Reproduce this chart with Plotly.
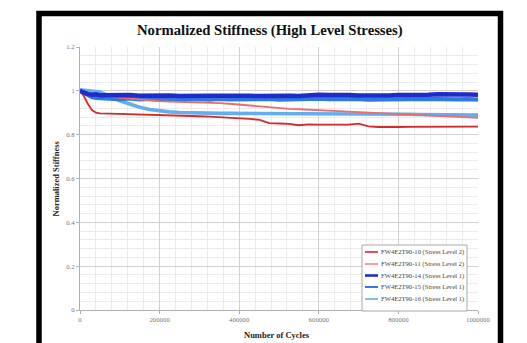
import plotly.graph_objects as go

cycles = [0, 10000, 20000, 30000, 40000, 50000, 75000, 100000, 125000, 150000, 175000,
          200000, 225000, 250000, 275000, 300000, 325000, 350000, 375000, 400000, 425000,
          450000, 475000, 500000, 525000, 550000, 575000, 600000, 625000, 650000, 675000,
          700000, 725000, 750000, 775000, 800000, 825000, 850000, 875000, 900000, 925000,
          950000, 975000, 1000000]

fw10 = [1.000, 0.975, 0.940, 0.912, 0.900, 0.897, 0.896, 0.895, 0.891, 0.893, 0.891,
        0.889, 0.888, 0.886, 0.885, 0.884, 0.882, 0.880, 0.878, 0.876, 0.872,
        0.868, 0.853, 0.851, 0.849, 0.843, 0.847, 0.846, 0.845, 0.844, 0.846,
        0.850, 0.838, 0.835, 0.834, 0.835, 0.836, 0.836, 0.837, 0.836, 0.837,
        0.836, 0.837, 0.837]

fw11 = [1.000, 0.995, 0.990, 0.985, 0.980, 0.977, 0.972, 0.968, 0.963, 0.958, 0.955,
        0.953, 0.951, 0.950, 0.949, 0.948, 0.946, 0.944, 0.941, 0.937, 0.933,
        0.929, 0.925, 0.920, 0.918, 0.916, 0.913, 0.911, 0.909, 0.907, 0.905,
        0.903, 0.901, 0.899, 0.896, 0.893, 0.891, 0.889, 0.887, 0.885, 0.883,
        0.881, 0.879, 0.877]

fw14 = [1.000, 0.990, 0.985, 0.982, 0.984, 0.980, 0.982, 0.979, 0.981, 0.978, 0.980,
        0.977, 0.979, 0.976, 0.978, 0.975, 0.977, 0.978, 0.976, 0.979, 0.977,
        0.976, 0.978, 0.975, 0.977, 0.976, 0.980, 0.982, 0.981, 0.983, 0.981,
        0.979, 0.978, 0.977, 0.979, 0.981, 0.980, 0.983, 0.982, 0.984, 0.982,
        0.980, 0.983, 0.982]

fw15 = [1.000, 0.990, 0.980, 0.972, 0.968, 0.966, 0.964, 0.962, 0.965, 0.961, 0.963,
        0.960, 0.962, 0.959, 0.961, 0.962, 0.960, 0.963, 0.961, 0.962, 0.960,
        0.961, 0.963, 0.960, 0.962, 0.961, 0.963, 0.964, 0.962, 0.963, 0.961,
        0.962, 0.960, 0.961, 0.962, 0.960, 0.962, 0.961, 0.963, 0.962, 0.960,
        0.961, 0.962, 0.960]

fw16 = [1.005, 1.003, 1.000, 1.000, 0.998, 0.995, 0.975, 0.955, 0.940, 0.925, 0.915,
        0.908, 0.904, 0.901, 0.899, 0.898, 0.897, 0.897, 0.897, 0.897, 0.896,
        0.896, 0.897, 0.896, 0.896, 0.895, 0.896, 0.895, 0.895, 0.896, 0.895,
        0.895, 0.894, 0.894, 0.894, 0.894, 0.893, 0.892, 0.892, 0.891, 0.891,
        0.890, 0.890, 0.889]

names = ["FW4E2T90-10 (Stress Level 2)", "FW4E2T90-11 (Stress Level 2)",
         "FW4E2T90-14 (Stress Level 1)", "FW4E2T90-15 (Stress Level 1)",
         "FW4E2T90-16 (Stress Level 1)"]
series = [fw10, fw11, fw14, fw15, fw16]
colors = ["#d42a2a", "#f06a6a", "#1e2ccc", "#2f78e0", "#62aef0"]
widths = [1.8, 1.8, 4.5, 4.2, 3.6]
legend_widths = [1.6, 1.3, 2.6, 2.0, 1.6]

x_ticks = [0, 200000, 400000, 600000, 800000, 1000000]
y_ticks = [0, 0.2, 0.4, 0.6, 0.8, 1.0, 1.2]

serif = "Liberation Serif, Times New Roman, serif"

# pixel -> paper helpers (plot area: x 80..478, y 47..310)
def px(xp):
    return (xp - 80) / 398.0

def py(yp):
    return (310 - yp) / 263.0

fig = go.Figure()
order = [4, 3, 1, 0, 2]
for i in order:
    fig.add_trace(go.Scatter(x=cycles, y=series[i], mode="lines", name=names[i],
                             line=dict(color=colors[i], width=widths[i]),
                             showlegend=False))

shapes = [dict(type="rect", xref="paper", yref="paper",
               x0=px(39), x1=px(500.5), y0=-0.3, y1=py(13.5),
               line=dict(color="black", width=5.5), fillcolor="rgba(0,0,0,0)",
               layer="above"),
          dict(type="rect", xref="paper", yref="paper",
               x0=px(362), x1=px(467), y0=py(311), y1=py(245),
               line=dict(color="#a8a8a8", width=1), fillcolor="white",
               layer="above")]
annotations = [
    dict(text="<b>Normalized Stiffness (High Level Stresses)</b>", xref="paper",
         yref="paper", x=px(270), y=py(30), showarrow=False,
         font=dict(family=serif, size=14.7, color="#111"), xanchor="center",
         yanchor="middle"),
    dict(text="<b>Number of Cycles</b>", xref="paper", yref="paper",
         x=px(277), y=py(335), showarrow=False,
         font=dict(family=serif, size=8.5, color="#222"), xanchor="center",
         yanchor="middle"),
    dict(text="<b>Normalized Stiffness</b>", xref="paper", yref="paper",
         x=px(55), y=0.5, showarrow=False, textangle=-90,
         font=dict(family=serif, size=8.5, color="#222"), xanchor="center",
         yanchor="middle"),
]
row_y = [252, 264, 275.5, 287, 299]
for i, name in enumerate(names):
    shapes.append(dict(type="line", xref="paper", yref="paper",
                       x0=px(365), x1=px(378), y0=py(row_y[i]), y1=py(row_y[i]),
                       line=dict(color=colors[i], width=legend_widths[i]),
                       layer="above"))
    annotations.append(dict(text=name, xref="paper", yref="paper",
                            x=px(379), y=py(row_y[i]), showarrow=False,
                            xanchor="left", yanchor="middle",
                            font=dict(family=serif, size=6.6, color="#444")))

fig.update_layout(
    width=527, height=343,
    margin=dict(l=80, r=49, t=47, b=33),
    paper_bgcolor="white", plot_bgcolor="white",
    showlegend=False,
    font=dict(family=serif),
    shapes=shapes,
    annotations=annotations,
)

fig.update_xaxes(range=[0, 1000000], tickvals=x_ticks, tickformat="d",
                 showgrid=True, gridcolor="#d2d2d2", gridwidth=1,
                 showline=True, linecolor="#b0b0b0", linewidth=1,
                 ticks="outside", ticklen=3, tickcolor="#b0b0b0",
                 tickfont=dict(family=serif, size=6.8, color="#777"),
                 minor=dict(dtick=40000, showgrid=True, gridcolor="#ebebeb"),
                 zeroline=False)
fig.update_yaxes(range=[0, 1.2], tickvals=y_ticks,
                 showgrid=True, gridcolor="#d2d2d2", gridwidth=1,
                 showline=True, linecolor="#b0b0b0", linewidth=1,
                 ticks="outside", ticklen=3, tickcolor="#b0b0b0",
                 tickfont=dict(family=serif, size=6.8, color="#777"),
                 minor=dict(dtick=0.04, showgrid=True, gridcolor="#ebebeb"),
                 zeroline=False)

fig.write_html("out.html")
